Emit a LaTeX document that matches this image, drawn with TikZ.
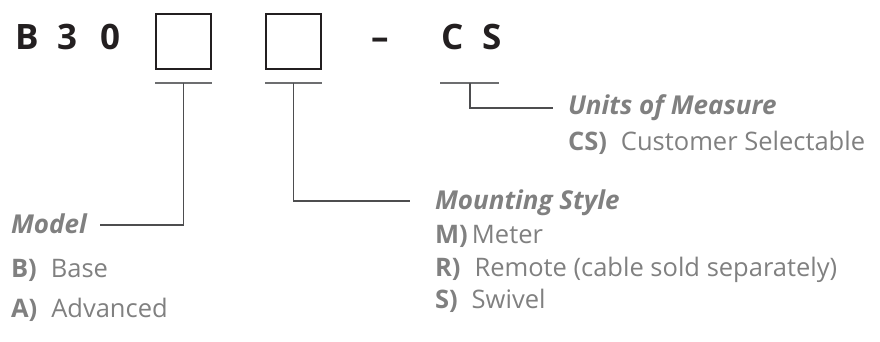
\documentclass[tikz,border=0pt]{standalone}
\usepackage{fontspec}
\setmainfont{Open Sans}
\usetikzlibrary{positioning}
\definecolor{inkblack}{HTML}{231F20}
\definecolor{txtgray}{HTML}{808080}
\definecolor{rulegray}{HTML}{6D6E70}
\definecolor{wiregray}{HTML}{4D4D4F}
\newcommand{\optgap}{\hspace{0.55em}}

\begin{document}
\begin{tikzpicture}[x=1pt,y=-1pt]
    \tikzstyle{every node}=[inner sep=0pt, outer sep=0pt]
    \tikzstyle{code}=[font=\fontsize{35}{35}\selectfont\bfseries, text=inkblack, anchor=base west]
    \tikzstyle{slot}=[draw=inkblack, line width=2pt, minimum width=55pt, minimum height=55pt, anchor=north west]
    \tikzstyle{under}=[draw=rulegray, line width=1.6pt]
    \tikzstyle{wire}=[draw=wiregray, line width=1.1pt]
    \tikzstyle{head}=[font=\fontsize{26}{26}\selectfont\bfseries\itshape, text=txtgray, anchor=base west]
    \tikzstyle{item}=[font=\fontsize{25.5}{26}\selectfont, text=txtgray, anchor=base west]
    \useasboundingbox (0,0) rectangle (880,342);

    % model code
    \node[code] (cB) at (15,50) {B};
    \node[code] (c3) at (57,50) {3};
    \node[code] (c0) at (100,50) {0};
    \node[slot] (box1) at (156,14) {};
    \node[slot] (box2) at (266,14) {};
    \node[code] (dash) at (371,50) {–};
    \node[code] (cC) at (441,50) {C};
    \node[code] (cS) at (482,50) {S};

    % underlines
    \draw[under] (155,83) -- (212,83) coordinate[midway] (u1);
    \draw[under] (265,83) -- (322,83) coordinate[midway] (u2);
    \draw[under] (440,83) -- (499,83);
    \coordinate (u3) at (470,83);

    % Units of Measure
    \node[head] (units) at (568,115) {Units of Measure};
    \node[item] (cs) at (568,150) {\textbf{CS)}\optgap Customer Selectable};
    \draw[wire] (u3) |- ([xshift=-15pt,yshift=7pt]units.base west);

    % Mounting Style
    \node[head] (mount) at (435,209) {Mounting Style};
    \node[item] (mM) at (435,243) {\textbf{M)}\,Meter};
    \node[item] (mR) at (435,276) {\textbf{R)}\optgap Remote (cable sold separately)};
    \node[item] (mS) at (435,308) {\textbf{S)}\optgap Swivel};
    \draw[wire] (u2) |- ([xshift=-25pt,yshift=8pt]mount.base west);

    % Model
    \node[head] (model) at (11,233) {Model};
    \node[item] (mB) at (11,277) {\textbf{B)}\optgap Base};
    \node[item] (mA) at (11,317) {\textbf{A)}\optgap Advanced};
    \draw[wire] (u1) |- ([xshift=13pt,yshift=8pt]model.base east);
\end{tikzpicture}
\end{document}
